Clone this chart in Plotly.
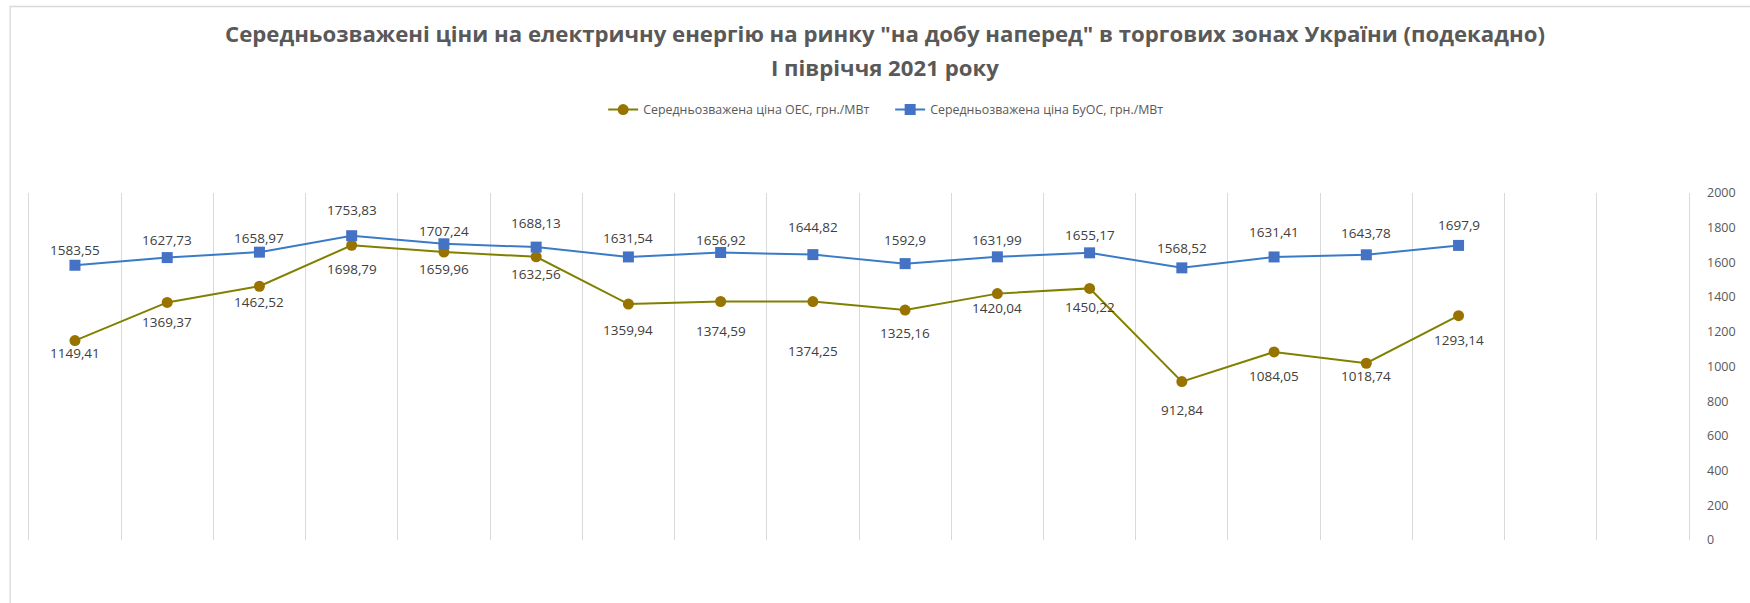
import plotly.graph_objects as go

# ---- data ----
n_slots = 18
decade_index = list(range(1, 17))
oes_prices = [1149.41, 1369.37, 1462.52, 1698.79, 1659.96, 1632.56, 1359.94, 1374.59,
              1374.25, 1325.16, 1420.04, 1450.22, 912.84, 1084.05, 1018.74, 1293.14]
buos_prices = [1583.55, 1627.73, 1658.97, 1753.83, 1707.24, 1688.13, 1631.54, 1656.92,
               1644.82, 1592.9, 1631.99, 1655.17, 1568.52, 1631.41, 1643.78, 1697.9]
oes_name = "Середньозважена ціна ОЕС, грн./МВт"
buos_name = "Середньозважена ціна БуОС, грн./МВт"
title_line1 = 'Середньозважені ціни на електричну енергію на ринку "на добу наперед" в торгових зонах України (подекадно)'
title_line2 = "I півріччя 2021 року"
y_ticks = list(range(0, 2001, 200))

# label placement (pixel distance of label centre from its marker; + = below)
oes_label_dy = [12.7, 19.7, 15.3, 23.3, 16.7, 17.7, 26, 29, 49, 22.5, 14, 18.7, 28, 24, 13, 24]
buos_label_dy = [-15, -17.7, -14, -25.3, -12.7, -24, -19, -12.5, -28, -23.6, -17, -18.3, -20.3, -25, -22.3, -20]


def fmt(v):
    return str(v).replace(".", ",")


FONT = "Open Sans"
W, H = 1750, 603
slot_px = (1689.0 - 28.7) / n_slots
pad = 0.02
L, R, T, B = 28.7 - pad * slot_px, 1689.0 + pad * slot_px, 193.0, 540.0


def px_x(p):
    return (p - L) / (R - L)


def px_y(p):
    return (B - p) / (B - T)


fig = go.Figure()
fig.add_trace(go.Scatter(
    x=decade_index, y=oes_prices, name=oes_name, mode="lines+markers",
    line=dict(color="#808000", width=2),
    marker=dict(symbol="circle", size=11, color="#997300"),
))
fig.add_trace(go.Scatter(
    x=decade_index, y=buos_prices, name=buos_name, mode="lines+markers",
    line=dict(color="#3A7BC8", width=2),
    marker=dict(symbol="square", size=11, color="#4472C4"),
))

annotations = []
for xs, ys, dys in ((decade_index, oes_prices, oes_label_dy), (decade_index, buos_prices, buos_label_dy)):
    for xv, yv, dy in zip(xs, ys, dys):
        annotations.append(dict(x=xv, y=yv, xref="x", yref="y", text=fmt(yv), showarrow=False,
                                xanchor="center", yanchor="middle", yshift=-dy,
                                font=dict(family=FONT, size=13.5, color="#404040")))

annotations += [
    dict(text="<b>" + title_line1 + "</b>", xref="paper", yref="paper", x=px_x(885), y=px_y(34),
         xanchor="center", yanchor="middle", showarrow=False,
         font=dict(family=FONT, size=22.2, color="#595959")),
    dict(text="<b>" + title_line2 + "</b>", xref="paper", yref="paper", x=px_x(885), y=px_y(67),
         xanchor="center", yanchor="middle", showarrow=False,
         font=dict(family=FONT, size=22.2, color="#595959")),
]

fig.update_layout(
    width=W, height=H,
    margin=dict(l=L, r=W - R, t=T, b=H - B, autoexpand=False),
    paper_bgcolor="white", plot_bgcolor="white",
    font=dict(family=FONT, color="#595959"),
    showlegend=True,
    legend=dict(orientation="h", x=px_x(890), y=px_y(110), xanchor="center", yanchor="middle",
                font=dict(family=FONT, size=12.4, color="#595959"), itemwidth=30,
                entrywidth=242, entrywidthmode="pixels", traceorder="normal"),
    xaxis=dict(range=[0.5 - pad, n_slots + 0.5 + pad], tickvals=[i + 0.5 for i in range(0, n_slots + 1)],
               showgrid=True, gridcolor="#D9D9D9", gridwidth=1, showticklabels=False,
               zeroline=False, showline=False, ticks=""),
    yaxis=dict(range=[0, 2000], side="right", tickvals=y_ticks, showgrid=False, zeroline=False,
               showline=False, ticks="", ticklabelstandoff=15,
               tickfont=dict(family=FONT, size=12.5, color="#595959")),
    annotations=annotations,
    shapes=[dict(type="rect", xref="paper", yref="paper", x0=px_x(10), x1=px_x(1770),
                 y0=px_y(620), y1=px_y(6.5), line=dict(color="#D9D9D9", width=1.3),
                 fillcolor="rgba(0,0,0,0)", layer="below")],
)

fig.write_html("out.html", config={"displayModeBar": False},
               post_script="document.body.style.margin='0';")
